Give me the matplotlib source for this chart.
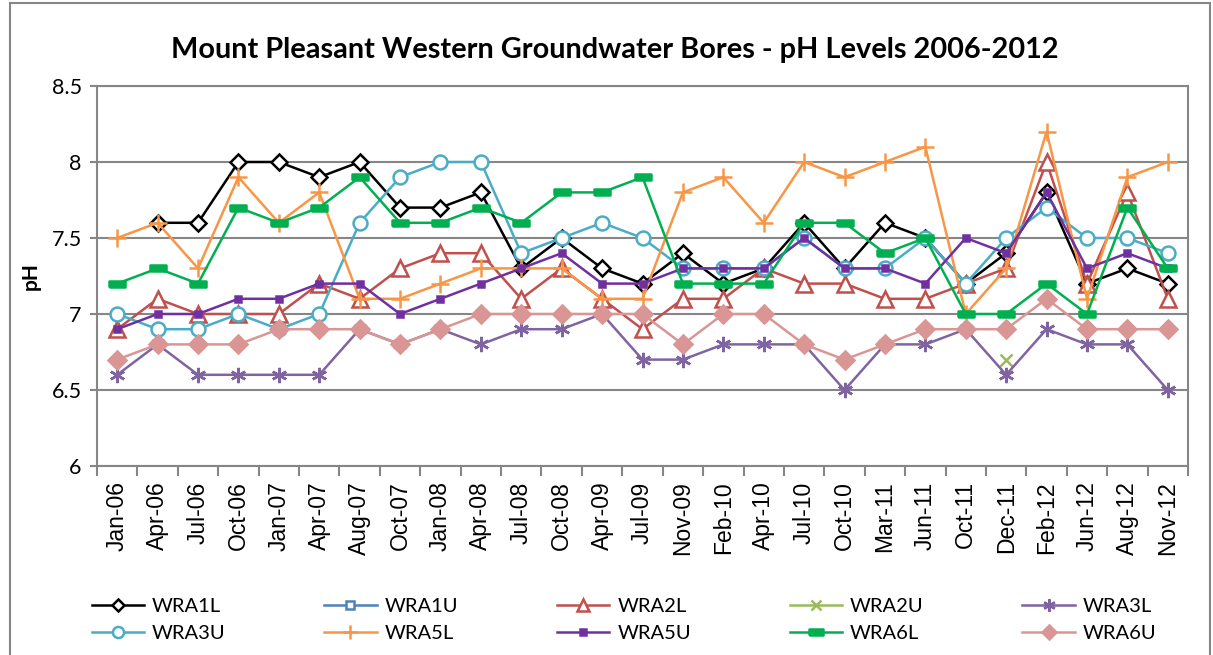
import numpy as np
import matplotlib
matplotlib.use("Agg")
import matplotlib.pyplot as plt
from matplotlib.patches import Rectangle

nan = np.nan

# sampling dates
dates = ["Jan-06", "Apr-06", "Jul-06", "Oct-06", "Jan-07", "Apr-07", "Aug-07",
         "Oct-07", "Jan-08", "Apr-08", "Jul-08", "Oct-08", "Apr-09", "Jul-09",
         "Nov-09", "Feb-10", "Apr-10", "Jul-10", "Oct-10", "Mar-11", "Jun-11",
         "Oct-11", "Dec-11", "Feb-12", "Jun-12", "Aug-12", "Nov-12"]

# pH readings per bore
wra1l = [nan, 7.6, 7.6, 8.0, 8.0, 7.9, 8.0, 7.7, 7.7, 7.8, 7.3, 7.5, 7.3, 7.2,
         7.4, 7.2, 7.3, 7.6, 7.3, 7.6, 7.5, 7.2, 7.4, 7.8, 7.2, 7.3, 7.2]
wra1u = [nan] * 27
wra2l = [6.9, 7.1, 7.0, 7.0, 7.0, 7.2, 7.1, 7.3, 7.4, 7.4, 7.1, 7.3, 7.1, 6.9,
         7.1, 7.1, 7.3, 7.2, 7.2, 7.1, 7.1, 7.2, 7.3, 8.0, 7.2, 7.8, 7.1]
wra2u = [nan] * 22 + [6.7] + [nan] * 4
wra3l = [6.6, 6.8, 6.6, 6.6, 6.6, 6.6, 6.9, 6.8, 6.9, 6.8, 6.9, 6.9, 7.0, 6.7,
         6.7, 6.8, 6.8, 6.8, 6.5, 6.8, 6.8, 6.9, 6.6, 6.9, 6.8, 6.8, 6.5]
wra3u = [7.0, 6.9, 6.9, 7.0, 6.9, 7.0, 7.6, 7.9, 8.0, 8.0, 7.4, 7.5, 7.6, 7.5,
         7.3, 7.3, 7.3, 7.5, 7.3, 7.3, 7.5, 7.2, 7.5, 7.7, 7.5, 7.5, 7.4]
wra5l = [7.5, 7.6, 7.3, 7.9, 7.6, 7.8, 7.1, 7.1, 7.2, 7.3, 7.3, 7.3, 7.1, 7.1,
         7.8, 7.9, 7.6, 8.0, 7.9, 8.0, 8.1, 7.0, 7.3, 8.2, 7.1, 7.9, 8.0]
wra5u = [6.9, 7.0, 7.0, 7.1, 7.1, 7.2, 7.2, 7.0, 7.1, 7.2, 7.3, 7.4, 7.2, 7.2,
         7.3, 7.3, 7.3, 7.5, 7.3, 7.3, 7.2, 7.5, 7.4, 7.8, 7.3, 7.4, 7.3]
wra6l = [7.2, 7.3, 7.2, 7.7, 7.6, 7.7, 7.9, 7.6, 7.6, 7.7, 7.6, 7.8, 7.8, 7.9,
         7.2, 7.2, 7.2, 7.6, 7.6, 7.4, 7.5, 7.0, 7.0, 7.2, 7.0, 7.7, 7.3]
wra6u = [6.7, 6.8, 6.8, 6.8, 6.9, 6.9, 6.9, 6.8, 6.9, 7.0, 7.0, 7.0, 7.0, 7.0,
         6.8, 7.0, 7.0, 6.8, 6.7, 6.8, 6.9, 6.9, 6.9, 7.1, 6.9, 6.9, 6.9]

bar_marker = [(-1, -0.4), (1, -0.4), (1, 0.4), (-1, 0.4), (-1, -0.4)]

# name, values, colour, marker, size, face
series = [
    ("WRA1L", wra1l, "black", "D", 8, "white"),
    ("WRA1U", wra1u, "#4F81BD", "s", 8, "white"),
    ("WRA2L", wra2l, "#C0504D", "^", 11, "white"),
    ("WRA2U", wra2u, "#9BBB59", "x", 9, None),
    ("WRA3L", wra3l, "#8064A2", (6, 2, 0), 11, None),
    ("WRA3U", wra3u, "#4BACC6", "o", 10, "white"),
    ("WRA5L", wra5l, "#F79646", "+", 13, None),
    ("WRA5U", wra5u, "#7030A0", "s", 5, "#7030A0"),
    ("WRA6L", wra6l, "#00B050", bar_marker, 12, "#00B050"),
    ("WRA6U", wra6u, "#D99694", "D", 9, "#D99694"),
]

fig = plt.figure(figsize=(12.13, 6.55), dpi=100)
ax = fig.add_axes([97 / 1213, 1 - 466 / 655, (1188 - 97) / 1213, (466 - 86) / 655])

x = np.arange(len(dates))
handles = {}
for name, vals, col, mk, ms, face in series:
    kw = dict(color=col, marker=mk, markersize=ms, linewidth=1.8,
              markeredgewidth=1.8, label=name)
    if face is not None:
        kw["markerfacecolor"] = face
    line, = ax.plot(x, vals, **kw)
    handles[name] = line

grey = "#868686"
ax.set_xlim(-0.5, len(dates) - 0.5)
ax.set_ylim(6, 8.5)
ax.set_yticks(np.arange(6, 8.51, 0.5))
ax.set_yticklabels([f"{v:g}" for v in np.arange(6, 8.51, 0.5)],
                   fontsize=15.5, family="Lato")
ax.yaxis.grid(True, color=grey, linewidth=1.5)
ax.set_axisbelow(True)

# ticks between categories, labels in the middle
ax.set_xticks(np.arange(-0.5, len(dates), 1))
ax.set_xticklabels([])
ax.set_xticks(x, minor=True)
ax.set_xticklabels(dates, minor=True, rotation=90, fontsize=16.5,
                   family="Liberation Sans")
ax.tick_params(axis="x", which="major", length=7, color=grey, width=1.5)
ax.tick_params(axis="x", which="minor", length=0, pad=11)
ax.tick_params(axis="y", length=5, color=grey, width=1.5, pad=6)
for s in ax.spines.values():
    s.set_color(grey)
    s.set_linewidth(1.5)

ax.set_ylabel("pH", fontsize=15, fontweight="bold", family="Lato", labelpad=8)
fig.text(615 / 1213, 1 - 50 / 655,
         "Mount Pleasant Western Groundwater Bores - pH Levels 2006-2012",
         ha="center", va="center", fontsize=20.8, fontweight="bold", family="Lato")

# Excel fills legend row by row
order = ["WRA1L", "WRA3U", "WRA1U", "WRA5L", "WRA2L",
         "WRA5U", "WRA2U", "WRA6L", "WRA3L", "WRA6U"]
fig.legend([handles[n] for n in order], order, loc="center", ncol=5,
           bbox_to_anchor=(624 / 1213, 1 - 620 / 655), frameon=False,
           prop={"family": "Lato", "size": 14.5}, handlelength=2.6,
           columnspacing=4.9, labelspacing=0.45, handletextpad=0.4,
           markerscale=0.8)

fig.patches.append(Rectangle((10 / 1213, -0.05), 1200 / 1213, 1.05 - 3 / 655,
                             transform=fig.transFigure, fill=False,
                             edgecolor=grey, linewidth=1.5))

plt.savefig("out.png", dpi=100)
